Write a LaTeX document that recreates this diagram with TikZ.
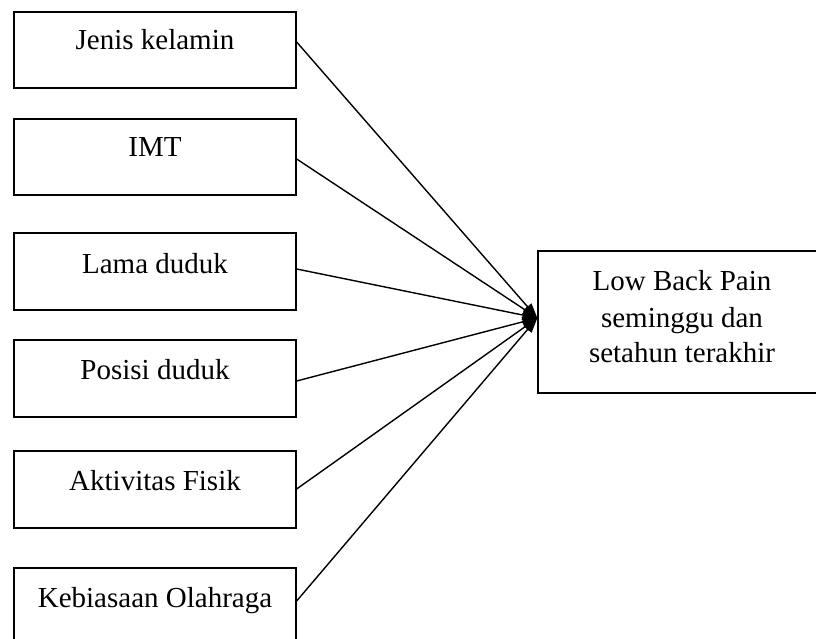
\documentclass[tikz,border=0pt]{standalone}
\usepackage{fontspec}
\setmainfont{Liberation Serif}
\usetikzlibrary{arrows.meta}
\begin{document}
\begin{tikzpicture}[x=1pt,y=-1pt,
  box/.style={draw,line width=1.3pt,minimum width=282pt,inner sep=0pt},
  lbl/.style={anchor=base,font=\fontsize{29}{36}\selectfont,inner sep=0pt},
  conn/.style={line width=1.4pt,-{Triangle[length=15pt,width=10pt]}}]
\clip (0,0) rectangle (816,639);
\fill[white] (0,0) rectangle (816,639);
\node[box,minimum height=76pt] (b1) at (155,50) {};
\node[box,minimum height=76pt] (b2) at (155,157) {};
\node[box,minimum height=77pt] (b3) at (155,271.5) {};
\node[box,minimum height=77pt] (b4) at (155,378.5) {};
\node[box,minimum height=77pt] (b5) at (155,489.5) {};
\node[box,minimum height=77pt] (b6) at (155,606.5) {};
\node[draw,line width=1.3pt,minimum width=288pt,minimum height=142pt,inner sep=0pt] (lbp) at (682,322) {};
\node[lbl] (t1) at (155,50) {Jenis kelamin};
\node[lbl] (t2) at (155,157) {IMT};
\node[lbl] (t3) at (155,273) {Lama duduk};
\node[lbl] (t4) at (155,379) {Posisi duduk};
\node[lbl] (t5) at (155,490) {Aktivitas Fisik};
\node[lbl] (t6) at (155,607) {Kebiasaan Olahraga};
\node[lbl] (r1) at (682,290) {Low Back Pain};
\node[lbl] (r2) at (682,327) {seminggu dan};
\node[lbl] (r3) at (682,362) {setahun terakhir};
\coordinate (tip) at ([yshift=4pt]lbp.west);
\draw[conn] ([yshift=8pt]b1.east) -- (tip);
\draw[conn] ([yshift=-2pt]b2.east) -- (tip);
\draw[conn] ([yshift=2.5pt]b3.east) -- (tip);
\draw[conn] ([yshift=-2.5pt]b4.east) -- (tip);
\draw[conn] ([yshift=0.5pt]b5.east) -- (tip);
\draw[conn] ([yshift=5.5pt]b6.east) -- (tip);
\end{tikzpicture}
\end{document}
